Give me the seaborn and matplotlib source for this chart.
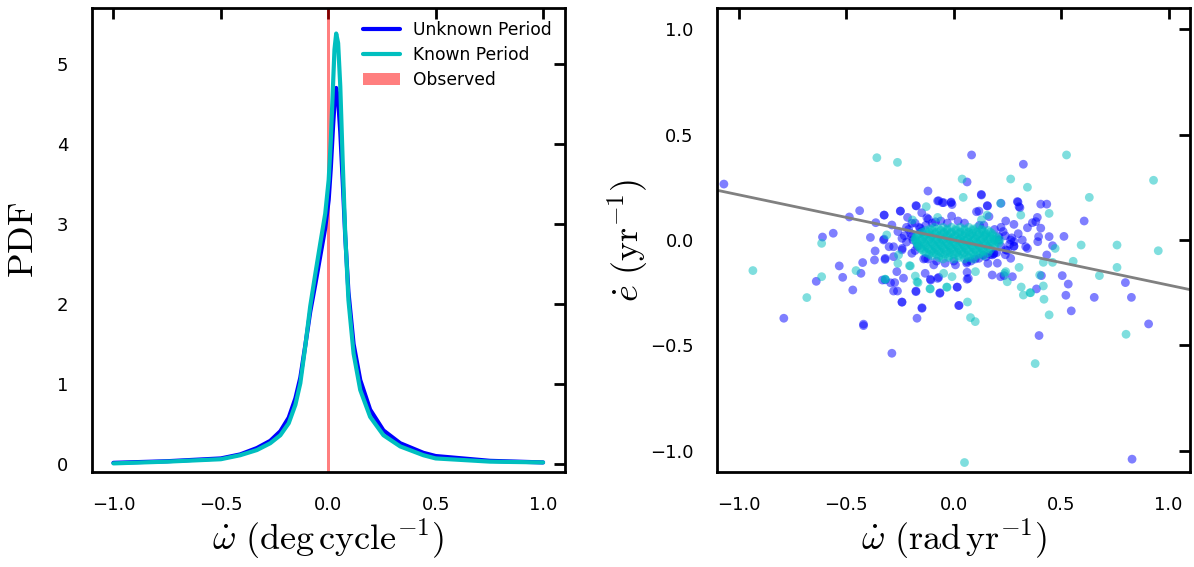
import numpy as np
import pandas as pd
import matplotlib
matplotlib.use("Agg")
import matplotlib.pyplot as plt
import seaborn as sns

# ---- left panel: PDF of omega-dot ----
omega_grid = [-1.0, -0.75, -0.5, -0.41, -0.332, -0.27, -0.223, -0.184, -0.153, -0.13,
              -0.107, -0.084, -0.06, -0.037, -0.014, 0.002, 0.012, 0.022, 0.029, 0.037,
              0.046, 0.056, 0.067, 0.079, 0.094, 0.118, 0.149, 0.195, 0.257, 0.335,
              0.443, 0.5, 0.753, 1.0]
pdf_unknown = [0.015, 0.035, 0.07, 0.12, 0.20, 0.29, 0.41, 0.58, 0.82, 1.08,
               1.48, 1.90, 2.25, 2.60, 2.95, 3.30, 3.70, 4.20, 4.50, 4.70,
               4.55, 4.15, 3.55, 2.85, 2.15, 1.50, 1.05, 0.68, 0.42, 0.26,
               0.14, 0.10, 0.04, 0.02]
pdf_known = [0.008, 0.03, 0.06, 0.11, 0.175, 0.26, 0.36, 0.51, 0.74, 1.01,
             1.47, 1.97, 2.38, 2.76, 3.13, 3.55, 4.05, 4.72, 5.18, 5.38,
             5.26, 4.72, 3.80, 2.88, 2.05, 1.38, 0.925, 0.59, 0.36, 0.22,
             0.11, 0.07, 0.03, 0.02]
observed = 0.0

# ---- right panel: omega-dot vs e-dot samples (unknown period) ----
unk_wdot = [-1.07, 0.083, 0.324, 0.062, -0.12, 0.129, -0.07, -0.047, -0.013, -0.008,
            -0.174, 0.157, 0.296, 0.304, 0.405, 0.433, 0.22, -0.438, -0.486, -0.324,
            -0.248, -0.215, -0.363, -0.125, 0.106, 0.389, 0.366, 0.405, 0.343, 0.607,
            0.513, 0.444, 0.46, 0.395, 0.391, -0.611, -0.561, -0.388, -0.366, -0.324,
            -0.301, -0.369, -0.32, -0.533, -0.424, -0.432, -0.517, -0.64, -0.47, -0.791,
            -0.42, -0.42, -0.288, -0.332, -0.294, -0.28, -0.241, -0.176, -0.171, -0.148,
            -0.133, -0.107, -0.075, -0.064, 0.016, 0.025, 0.068, 0.062, 0.137, 0.159,
            0.179, 0.234, 0.186, 0.385, 0.408, 0.397, 0.505, 0.533, 0.522, 0.547,
            0.654, 0.799, 0.827, 0.907, 0.83, 0.433, 0.343, 0.281,
            0.128, -0.075, -0.053, -0.012, -0.176, 0.156, 0.117, 0.299, 0.308, -0.249,
            -0.149, -0.324, -0.118, -0.01, 0.164, 0.242, 0.28, 0.382, -0.288, -0.195,
            -0.155, -0.085, -0.241, -0.195, -0.327, -0.28, 0.21, 0.265, 0.319, 0.335,
            0.28, 0.242, 0.187, -0.195, -0.241, -0.319, -0.28, -0.132, -0.093, 0.008,
            0.062, 0.117, 0.18, 0.203, 0.265, 0.218, 0.273, -0.319, -0.275, -0.234,
            -0.265, -0.109, -0.07, 0.062, 0.016, -0.065, -0.176, -0.262, -0.241, -0.148,
            0.023]
unk_edot = [0.265, 0.403, 0.359, 0.275, 0.232, 0.213, 0.186, 0.177, 0.177, 0.168,
            0.161, 0.161, 0.182, 0.158, 0.17, 0.17, 0.174, 0.139, 0.109, 0.118,
            0.137, 0.107, 0.082, 0.105, 0.134, 0.107, 0.082, 0.056, 0.058, 0.09,
            0.017, 0.016, -0.027, 0.016, -0.008, 0.014, 0.032, 0.012, -0.052, 0.004,
            -0.032, -0.095, -0.092, -0.123, -0.107, -0.158, -0.177, -0.196, -0.237, -0.371,
            -0.406, -0.399, -0.537, -0.19, -0.203, -0.242, -0.294, -0.242, -0.371, -0.321,
            -0.158, -0.19, -0.182, -0.25, -0.223, -0.31, -0.182, -0.153, -0.071, -0.111,
            -0.166, -0.169, -0.066, -0.232, -0.169, -0.453, -0.169, -0.209, -0.262, -0.336,
            -0.272, -0.202, -0.272, -0.398, -1.039, -0.071, -0.04, -0.008,
            0.216, 0.185, 0.177, 0.18, 0.163, 0.163, 0.137, 0.18, 0.153, 0.137,
            0.129, 0.118, 0.099, 0.113, 0.111, 0.09, 0.074, 0.087, 0.071, 0.079,
            0.055, 0.086, 0.008, 0.016, 0.0, -0.032, 0.016, 0.0, 0.0, -0.032,
            -0.029, -0.047, -0.063, -0.063, -0.047, -0.087, -0.079, -0.087, -0.118, -0.118,
            -0.103, -0.087, -0.071, -0.11, -0.087, -0.174, -0.174, -0.189, -0.202, -0.181,
            -0.15, -0.186, -0.177, -0.186, -0.224, -0.253, -0.245, -0.242, -0.295, -0.324,
            -0.311]
# dark blue ring round the dense core
unk_core_wdot = [-0.2, -0.18, -0.16, -0.14, -0.1, -0.08, -0.03, 0.0, 0.05, 0.08,
                 0.12, 0.15, 0.19, 0.22, 0.24, -0.22, -0.19, -0.17, -0.21, -0.15,
                 -0.12, -0.06, 0.02, 0.1, 0.17, 0.21, 0.23, 0.26, 0.25, 0.2,
                 -0.13, 0.14, -0.04, 0.06, -0.23, 0.27,
                 -0.24, -0.22, -0.18, 0.22, 0.28, 0.24, 0.3, -0.26]
unk_core_edot = [0.03, -0.05, 0.06, -0.09, 0.08, -0.1, 0.08, -0.1, 0.08, -0.1,
                 0.07, -0.08, 0.05, -0.03, 0.02, -0.01, 0.0, -0.03, 0.05, 0.04,
                 -0.09, 0.09, 0.09, -0.09, -0.07, 0.0, 0.04, -0.02, -0.05, -0.06,
                 0.07, 0.07, -0.11, -0.11, 0.02, 0.01,
                 -0.04, 0.06, 0.08, 0.06, -0.03, -0.07, 0.03, 0.04]

# ---- right panel: known period ----
kn_wdot = [-0.358, -0.262, 0.525, 0.039, 0.265, 0.343, 0.044, 0.631, 0.93, -0.128,
           0.312, 0.444, 0.593, 0.76, 0.952, -0.615, -0.935, -0.615, -0.684, -0.455,
           -0.319, -0.206, -0.171, -0.111, -0.033, -0.008, 0.064, 0.078, 0.1, 0.304,
           0.249, 0.314, 0.324, 0.355, 0.417, 0.42, 0.444, 0.4, 0.417, 0.46,
           0.556, 0.678, 0.76, 0.802, 0.379, 0.472, -0.312, -0.257, -0.26, 0.237,
           0.218, -0.192, -0.075, 0.129, 0.155, 0.05,
           -0.202, -0.319, -0.179, -0.166, -0.109, -0.031, -0.047, 0.101, 0.242, 0.358]
kn_edot = [0.39, 0.368, 0.403, 0.289, 0.289, 0.25, 0.202, 0.202, 0.283, 0.158,
           0.118, 0.126, -0.024, -0.024, -0.051, -0.016, -0.145, -0.174, -0.273, -0.145,
           -0.186, -0.122, -0.198, -0.231, -0.223, -0.174, -0.294, -0.368, -0.387, -0.13,
           -0.198, -0.223, -0.261, -0.25, -0.218, -0.281, -0.355, -0.166, -0.106, -0.106,
           -0.101, -0.169, -0.13, -0.447, -0.586, -0.04, 0.024, -0.071, -0.111, -0.158,
           0.174, 0.095, 0.107, 0.096, 0.118, -1.055,
           -0.123, -0.186, -0.171, -0.202, -0.232, -0.224, -0.158, -0.15, -0.15, -0.25]
# dense teal core, one row of x positions per e-dot level
core_levels = [0.06, 0.052, 0.045, 0.037, 0.03, 0.022, 0.015, 0.007, 0.0, -0.008,
               -0.015, -0.023, -0.03, -0.038, -0.045, -0.053, -0.06, -0.068, -0.075,
               -0.083, -0.09]
core_rows = [
    [-0.09, -0.05, -0.01, 0.03, 0.07, 0.11],
    [-0.11, -0.07, -0.03, 0.01, 0.05, 0.09, 0.13],
    [-0.13, -0.10, -0.06, -0.03, 0.01, 0.05, 0.09, 0.13, 0.16],
    [-0.145, -0.115, -0.08, -0.045, -0.01, 0.03, 0.07, 0.105, 0.14, 0.17],
    [-0.16, -0.12, -0.085, -0.045, -0.015, 0.02, 0.055, 0.085, 0.12, 0.15, 0.18],
    [-0.17, -0.135, -0.1, -0.065, -0.03, 0.005, 0.04, 0.075, 0.11, 0.145, 0.18],
    [-0.175, -0.14, -0.105, -0.07, -0.035, 0.0, 0.035, 0.07, 0.105, 0.14, 0.17, 0.2],
    [-0.18, -0.145, -0.11, -0.075, -0.04, -0.005, 0.03, 0.065, 0.1, 0.135, 0.17, 0.2],
    [-0.18, -0.15, -0.115, -0.08, -0.05, -0.015, 0.02, 0.05, 0.09, 0.125, 0.16, 0.19, 0.215],
    [-0.175, -0.14, -0.105, -0.07, -0.035, 0.0, 0.035, 0.07, 0.105, 0.14, 0.175, 0.205],
    [-0.17, -0.135, -0.1, -0.065, -0.03, 0.005, 0.04, 0.075, 0.11, 0.145, 0.18, 0.21],
    [-0.165, -0.13, -0.095, -0.06, -0.025, 0.01, 0.045, 0.08, 0.115, 0.15, 0.185],
    [-0.165, -0.13, -0.09, -0.055, -0.02, 0.015, 0.05, 0.085, 0.12, 0.155, 0.19],
    [-0.155, -0.12, -0.085, -0.05, -0.015, 0.02, 0.055, 0.09, 0.125, 0.16],
    [-0.15, -0.115, -0.08, -0.045, -0.01, 0.025, 0.06, 0.1, 0.135, 0.17],
    [-0.14, -0.105, -0.07, -0.035, 0.0, 0.035, 0.07, 0.105, 0.14],
    [-0.13, -0.095, -0.06, -0.02, 0.015, 0.05, 0.09, 0.125, 0.16],
    [-0.115, -0.08, -0.04, 0.0, 0.04, 0.08, 0.12],
    [-0.1, -0.06, -0.02, 0.02, 0.06, 0.1, 0.14],
    [-0.07, -0.025, 0.025, 0.07],
    [-0.05, 0.0, 0.05, 0.09],
]

fit_slope = -0.214
fit_intercept = 0.0

# ---- style ----
sns.set_style("white")
plt.rcParams["font.family"] = ["DejaVu Sans"]
plt.rcParams["mathtext.fontset"] = "cm"
for key in ["text.color", "axes.labelcolor", "xtick.color", "ytick.color", "axes.edgecolor"]:
    plt.rcParams[key] = "black"

fig, (ax1, ax2) = plt.subplots(1, 2, figsize=(11.94, 5.67), dpi=100)
fig.subplots_adjust(left=0.077, right=0.9967, top=0.986, bottom=0.1675, wspace=0.3235)

pdf_df = pd.DataFrame({
    "wdot": omega_grid * 2,
    "pdf": pdf_unknown + pdf_known,
    "sample": ["Unknown Period"] * len(omega_grid) + ["Known Period"] * len(omega_grid),
})
sns.lineplot(data=pdf_df, x="wdot", y="pdf", hue="sample",
             palette={"Unknown Period": "b", "Known Period": "c"},
             linewidth=3, sort=False, ax=ax1)
ax1.axvspan(observed - 0.006, observed + 0.006, color="r", alpha=0.5, lw=0, label="Observed")
ax1.set_xlim(-1.1, 1.1)
ax1.set_ylim(-0.1, 5.7)
ax1.set_xticks([-1.0, -0.5, 0.0, 0.5, 1.0])
ax1.set_yticks([0, 1, 2, 3, 4, 5])
ax1.set_xlabel(r"$\dot{\omega}\ (\mathrm{deg\,cycle^{-1}})$", fontsize=26, labelpad=2)
ax1.set_ylabel(r"$\mathrm{PDF}$", fontsize=26, labelpad=12)
ax1.legend(loc="upper right", frameon=False, fontsize=12.3, handlelength=2.2,
           handletextpad=0.75, borderaxespad=0.35, labelspacing=0.42)

core_w = [x for row in core_rows for x in row]
core_e = [lvl for lvl, row in zip(core_levels, core_rows) for _ in row]
scat_df = pd.DataFrame({
    "wdot": unk_wdot + unk_core_wdot + kn_wdot + core_w,
    "edot": unk_edot + unk_core_edot + kn_edot + core_e,
    "sample": ["Unknown"] * (len(unk_wdot) + len(unk_core_wdot))
              + ["Known"] * (len(kn_wdot) + len(core_w)),
})
sns.scatterplot(data=scat_df, x="wdot", y="edot", hue="sample",
                palette={"Unknown": "b", "Known": "c"}, alpha=0.5, s=40,
                linewidth=0, legend=False, ax=ax2)
ax2.axline((0, fit_intercept), slope=fit_slope, color="gray", lw=2)
ax2.set_xlim(-1.1, 1.1)
ax2.set_ylim(-1.1, 1.1)
ax2.set_xticks([-1.0, -0.5, 0.0, 0.5, 1.0])
ax2.set_yticks([-1.0, -0.5, 0.0, 0.5, 1.0])
ax2.set_xlabel(r"$\dot{\omega}\ (\mathrm{rad\,yr^{-1}})$", fontsize=26, labelpad=2)
ax2.set_ylabel(r"$\dot{e}\ (\mathrm{yr^{-1}})$", fontsize=26, labelpad=0)

for ax in (ax1, ax2):
    for sp in ax.spines.values():
        sp.set_linewidth(2)
    ax.tick_params(direction="in", length=8, width=2, top=True, right=True,
                   labelsize=13, pad=17)

fig.savefig("out.png", dpi=100)
